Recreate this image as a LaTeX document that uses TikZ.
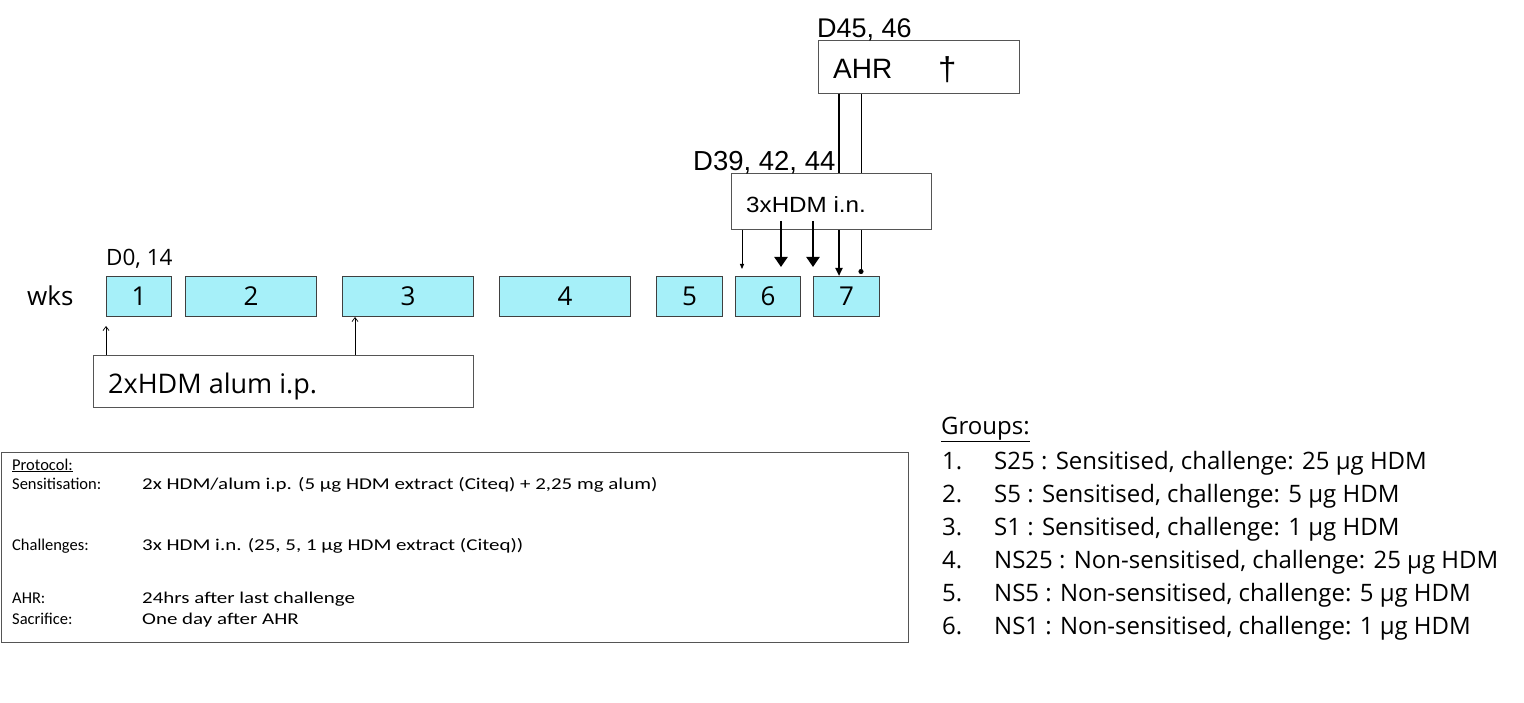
\documentclass[tikz,border=0pt]{standalone}
\usepackage{fontspec}
\setmainfont{Open Sans}
\newfontfamily\arialf{Liberation Sans}
\newfontfamily\calibf{Carlito}
\usetikzlibrary{arrows.meta,calc}
\definecolor{wkcyan}{HTML}{A6F0F9}
\definecolor{wkedge}{HTML}{404040}
\definecolor{boxedge}{HTML}{555555}
\begin{document}
\begin{tikzpicture}[x=1pt,y=-1pt,
  wk/.style={draw=wkedge, fill=wkcyan, line width=1pt, minimum height=40pt, inner sep=0pt, anchor=north west, font=\fontsize{26}{26}\selectfont},
  box/.style={draw=boxedge, fill=white, line width=1pt, anchor=north west, inner sep=0pt},
  lbl/.style={inner sep=0pt, anchor=base west},
  tarrow/.style={line width=0.7pt, -{Straight Barb[length=4pt,width=6pt]}},
  thk/.style={line width=2.2pt, -{Triangle[length=10pt,width=13pt]}},
  med/.style={line width=2pt, -{Triangle[length=8pt,width=7pt]}},
  thn/.style={line width=0.8pt, -{Triangle[length=5pt,width=4pt]}},
  dotend/.style={line width=0.8pt, -{Circle[length=5pt]}},
  grp/.style={inner sep=0pt, anchor=base west, font=\fontsize{24}{24}\selectfont},
  prt/.style={inner sep=0pt, anchor=base west, font=\calibf\fontsize{16.5}{16.5}\selectfont}
]
\useasboundingbox (0,0) rectangle (1524,703);

% week boxes
\node[lbl, font=\fontsize{26}{26}\selectfont] (wks) at (27,306) {wks};
\node[wk, minimum width=65pt] (w1) at (106,276) {1};
\node[wk, minimum width=131pt] (w2) at (185,276) {2};
\node[wk, minimum width=131pt] (w3) at (342,276) {3};
\node[wk, minimum width=131pt] (w4) at (499,276) {4};
\node[wk, minimum width=66pt] (w5) at (656,276) {5};
\node[wk, minimum width=65pt] (w6) at (735,276) {6};
\node[wk, minimum width=66pt] (w7) at (813,276) {7};
\node[lbl, font=\fontsize{22.5}{22.5}\selectfont] (d0) at (106,266) {D0, 14};

% sensitisation box
\node[box, minimum width=380pt, minimum height=52pt] (sens) at (93,355) {};
\node[lbl, font=\fontsize{27}{27}\selectfont] (senst) at (108,393) {2xHDM alum i.p.};
\draw[tarrow, shorten >=9pt] (w1.south west |- sens.north) -- (w1.south west);
\coordinate (c3) at ($(w3.south west)+(13,0)$);
\draw[tarrow] (c3 |- sens.north) -- (c3);

% AHR box
\coordinate (x839) at (839,0);
\coordinate (x861) at (861,0);
\node[box, minimum width=201pt, minimum height=53pt] (ahr) at (818,40) {};
\node[lbl, font=\arialf\fontsize{28}{28}\selectfont] (ahrt) at (833,79) {AHR};
\node[lbl, font=\arialf\fontsize{33}{33}\selectfont] (dag) at (938,81) {\char"2020};
\node[lbl, font=\arialf\fontsize{27}{27}\selectfont] (d45) at (817,38) {D45, 46};

\draw[med] (x839 |- ahr.south) -- (x839 |- w7.north);
\draw[dotend] (x861 |- ahr.south) -- ($(x861 |- w7.north)+(0,-2)$);

% challenge box
\node[box, minimum width=200pt, minimum height=56pt] (hdm) at (731,173) {};
\node[lbl, font=\arialf\fontsize{22}{22}\selectfont] (hdmt) at (746,213) {\scalebox{1.1}[1]{3xHDM i.n.}};
\node[lbl, font=\arialf\fontsize{27.5}{27.5}\selectfont] (d39) at (693,171) {D39, 42, 44};

\coordinate (x742) at (742,0);
\coordinate (x781) at (781,0);
\coordinate (x813) at (813,0);
\draw[thn, shorten >=7pt] (x742 |- hdm.south) -- (x742 |- w6.north);
\draw[thk, shorten >=9pt] ($(x781 |- hdm.south)+(0,-9)$) -- (x781 |- w6.north);
\draw[thk, shorten >=9pt] ($(x813 |- hdm.south)+(0,-9)$) -- (x813 |- w7.north);

% protocol box
\node[box, minimum width=907pt, minimum height=190pt] (prot) at (1,452) {};
\node[prt] (p0) at (12,470) {\underline{Protocol:}};
\node[prt] (p1) at (12,489) {Sensitisation:};
\node[prt] (p1v) at (142,489) {\scalebox{1.27}[1]{2x HDM/alum i.p. (5 µg HDM extract (Citeq) + 2,25 mg alum)}};
\node[prt] (p2) at (12,550) {Challenges:};
\node[prt] (p2v) at (142,550) {\scalebox{1.27}[1]{3x HDM i.n. (25, 5, 1 µg HDM extract (Citeq))}};
\node[prt] (p3) at (12,603) {AHR:};
\node[prt] (p3v) at (142,603) {\scalebox{1.27}[1]{24hrs after last challenge}};
\node[prt] (p4) at (12,624) {Sacrifice:};
\node[prt] (p4v) at (142,624) {\scalebox{1.27}[1]{One day after AHR}};

% groups
\node[grp] (g0) at (941,434) {\underline{Groups:}};
\node[grp] (n1) at (942,469) {1.};
\node[grp] (g1) at (994,469) {S25 : Sensitised, challenge: 25 µg HDM};
\node[grp] (n2) at (942,502) {2.};
\node[grp] (g2) at (994,502) {S5 : Sensitised, challenge: 5 µg HDM};
\node[grp] (n3) at (942,535) {3.};
\node[grp] (g3) at (994,535) {S1 : Sensitised, challenge: 1 µg HDM};
\node[grp] (n4) at (942,568) {4.};
\node[grp] (g4) at (994,568) {NS25 : Non-sensitised, challenge: 25 µg HDM};
\node[grp] (n5) at (942,601) {5.};
\node[grp] (g5) at (994,601) {NS5 : Non-sensitised, challenge: 5 µg HDM};
\node[grp] (n6) at (942,634) {6.};
\node[grp] (g6) at (994,634) {NS1 : Non-sensitised, challenge: 1 µg HDM};
\end{tikzpicture}
\end{document}
